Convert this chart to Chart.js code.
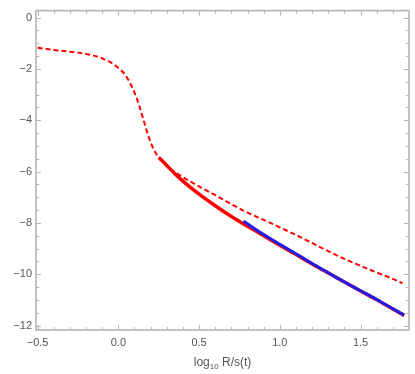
<!DOCTYPE html>
<html>
<head>
<meta charset="utf-8">
<script src="https://cdn.jsdelivr.net/npm/chart.js@4.4.1/dist/chart.umd.min.js"></script>
<style>
  html, body { margin: 0; padding: 0; background: #fff; }
  #wrap { width: 415px; height: 374px; }
</style>
</head>
<body>
<div id="wrap"><canvas id="chart"></canvas></div>
<script>
"use strict";

// dashed red curve
var dashedX = [-0.5, -0.4, -0.3, -0.2, -0.12, -0.05, 0.0, 0.04, 0.07, 0.10, 0.13, 0.154, 0.185, 0.216, 0.25, 0.29, 0.33, 0.4, 0.5, 0.6, 0.7, 0.8, 0.9, 1.0, 1.1, 1.2, 1.3, 1.4, 1.5, 1.6, 1.7, 1.76];
var dashedY = [-1.18, -1.26, -1.33, -1.42, -1.54, -1.74, -1.96, -2.21, -2.52, -2.92, -3.45, -3.95, -4.6, -5.1, -5.45, -5.72, -5.93, -6.22, -6.58, -6.92, -7.27, -7.6, -7.88, -8.17, -8.47, -8.78, -9.1, -9.4, -9.67, -9.93, -10.18, -10.35];

// solid red curve
var solidX = [0.25, 0.3, 0.35, 0.4, 0.5, 0.6, 0.7, 0.8, 0.9, 1.0, 1.1, 1.2, 1.3, 1.4, 1.5, 1.6, 1.7, 1.77];
var solidY = [-5.45, -5.76, -6.08, -6.37, -6.88, -7.33, -7.75, -8.13, -8.5, -8.87, -9.23, -9.6, -9.95, -10.3, -10.65, -10.99, -11.35, -11.6];

// blue line
var blueX = [0.775, 0.9, 1.0, 1.1, 1.2, 1.3, 1.4, 1.5, 1.6, 1.7, 1.77];
var blueY = [-7.93, -8.45, -8.83, -9.2, -9.58, -9.94, -10.3, -10.64, -10.98, -11.34, -11.59];

var xTicks = [-0.5, 0.0, 0.5, 1.0, 1.5];
var yTicks = [0, -2, -4, -6, -8, -10, -12];

var tickFont = "'Liberation Sans Narrow', 'Liberation Sans', sans-serif";
var frameColor = "#b4b4b4";
var labelColor = "#555555";

function toPoints(xs, ys) {
  return xs.map(function(x, i) {
    return { x: x, y: ys[i] };
  });
}

function fmt(v, digits) {
  var s = digits ? v.toFixed(digits) : String(v);
  return s.replace("-", "\u2212");
}

// Mathematica style frame with inward ticks on all four sides
var framePlugin = {
  id: "frame",
  afterDatasetsDraw: function(chart) {
    var ctx = chart.ctx;
    var a = chart.chartArea;
    var xs = chart.scales.x;
    var ys = chart.scales.y;
    var v, p, len;

    ctx.save();
    ctx.strokeStyle = frameColor;
    ctx.lineWidth = 1.6;
    ctx.strokeRect(a.left, a.top, a.right - a.left, a.bottom - a.top);

    ctx.lineWidth = 1;
    ctx.beginPath();
    for (var i = -5; i <= 18; i++) {
      v = i / 10;
      p = Math.round(xs.getPixelForValue(v)) + 0.5;
      if (p < a.left || p > a.right) continue;
      len = (i % 5 === 0) ? 5 : 3;
      ctx.moveTo(p, a.bottom);
      ctx.lineTo(p, a.bottom - len);
      ctx.moveTo(p, a.top);
      ctx.lineTo(p, a.top + len);
    }
    for (var j = 0; j >= -24; j--) {
      v = j / 2;
      p = Math.round(ys.getPixelForValue(v)) + 0.5;
      if (p < a.top || p > a.bottom) continue;
      len = (j % 4 === 0) ? 5 : 3;
      ctx.moveTo(a.left, p);
      ctx.lineTo(a.left + len, p);
      ctx.moveTo(a.right, p);
      ctx.lineTo(a.right - len, p);
    }
    ctx.stroke();

    // x axis title with subscript
    ctx.fillStyle = labelColor;
    ctx.textBaseline = "alphabetic";
    var big = "12px " + tickFont;
    var small = "8px " + tickFont;
    ctx.font = big;
    var w1 = ctx.measureText("log").width;
    var w3 = ctx.measureText(" R/s(t)").width;
    ctx.font = small;
    var w2 = ctx.measureText("10").width;
    var cx = (a.left + a.right) / 2;
    var x0 = cx - (w1 + w2 + w3) / 2;
    var base = 366;
    ctx.font = big;
    ctx.textAlign = "left";
    ctx.fillText("log", x0, base);
    ctx.font = small;
    ctx.fillText("10", x0 + w1, base + 3);
    ctx.font = big;
    ctx.fillText(" R/s(t)", x0 + w1 + w2, base);
    ctx.restore();
  }
};

new Chart(document.getElementById("chart"), {
  type: "scatter",
  data: {
    datasets: [{
      label: "blue",
      data: toPoints(blueX, blueY),
      showLine: true,
      borderColor: "rgb(28, 28, 235)",
      borderWidth: 3,
      pointRadius: 0,
      cubicInterpolationMode: "monotone"
    }, {
      label: "solid",
      data: toPoints(solidX, solidY),
      showLine: true,
      borderColor: "#ff0000",
      borderWidth: 3.5,
      pointRadius: 0,
      cubicInterpolationMode: "monotone"
    }, {
      label: "dashed",
      data: toPoints(dashedX, dashedY),
      showLine: true,
      borderColor: "#ff0000",
      borderWidth: 2,
      borderDash: [5, 3],
      pointRadius: 0,
      cubicInterpolationMode: "monotone"
    }]
  },
  options: {
    responsive: true,
    maintainAspectRatio: false,
    animation: false,
    layout: {
      padding: { top: 7, right: 6, left: 0, bottom: 0 }
    },
    plugins: {
      legend: { display: false },
      tooltip: { enabled: false }
    },
    scales: {
      x: {
        type: "linear",
        min: -0.51,
        max: 1.80,
        grid: { display: false, drawTicks: false, tickLength: 0 },
        border: { display: false },
        afterBuildTicks: function(scale) {
          scale.ticks = xTicks.map(function(v) { return { value: v }; });
        },
        afterFit: function(scale) {
          scale.height = 44;
        },
        ticks: {
          color: labelColor,
          font: { family: tickFont, size: 11 },
          padding: 6,
          maxRotation: 0,
          autoSkip: false,
          callback: function(v) { return fmt(v, 1); }
        }
      },
      y: {
        type: "linear",
        min: -12.17,
        max: 0.27,
        grid: { display: false, drawTicks: false, tickLength: 0 },
        border: { display: false },
        afterBuildTicks: function(scale) {
          scale.ticks = yTicks.map(function(v) { return { value: v }; });
        },
        afterFit: function(scale) {
          scale.width = 36;
        },
        ticks: {
          color: labelColor,
          font: { family: tickFont, size: 11 },
          padding: 4,
          autoSkip: false,
          callback: function(v) { return fmt(v, 0); }
        }
      }
    }
  },
  plugins: [framePlugin]
});
</script>
</body>
</html>
